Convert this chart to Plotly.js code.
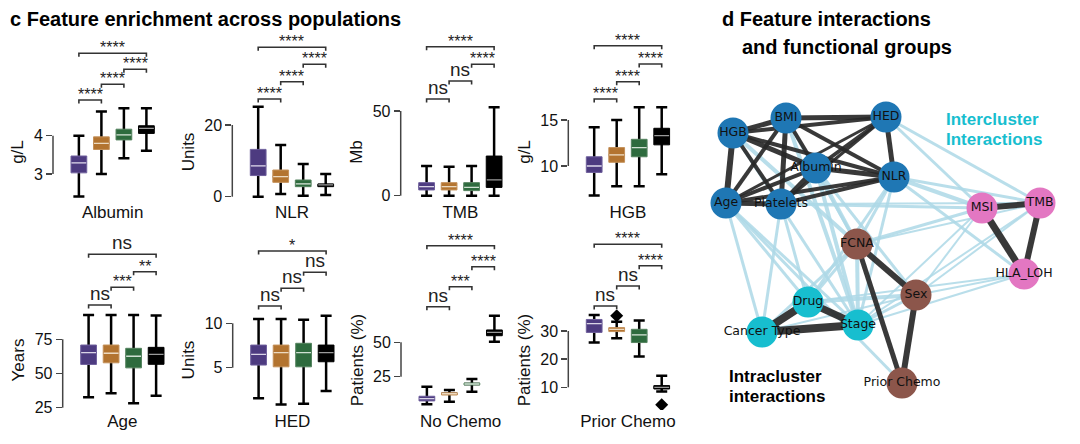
<!DOCTYPE html>
<html>
<head>
<meta charset="utf-8">
<script src="https://cdn.plot.ly/plotly-3.0.1.min.js"></script>
<style>html,body{margin:0;padding:0;background:#fff;}#chart{width:1080px;height:444px;}</style>
</head>
<body>
<div id="chart"></div>
<script>
// ---------- DATA ----------
const groupColors = ['#4d3b80', '#b37430', '#2e6b3e', '#000000'];
const borderColors = ['#6e5f9c', '#c4915a', '#55835f', '#000000'];
const medianColors = ['#d9d4e6', '#ecd9c0', '#cfe0d2', '#9a9a9a'];
const panelNames = ['Albumin', 'NLR', 'TMB', 'HGB', 'Age', 'HED', 'No Chemo', 'Prior Chemo'];
const yTitles = ['g/L', 'Units', 'Mb', 'g/L', 'Years', 'Units', 'Patients (%)', 'Patients (%)'];
const tickValues = [[3, 4], [0, 20], [0, 50], [10, 15], [25, 50, 75], [5, 10], [25, 50], [10, 20, 30]];

const lowerFences = [
  [2.41, 3.0, 3.41, 3.61], [0, 0.75, 0.3, 0.47], [0, 0, 0, 0], [6.8, 7.8, 7.8, 9.1],
  [32.7, 35.6, 28.3, 33.7], [1.55, 0.87, 0.94, 2.37], [4.9, 6.8, 14.1, 50.4], [25.9, 27.4, 20.9, 8.5]
];
const q1s = [
  [3.03, 3.64, 3.89, 4.06], [5.9, 4.0, 2.8, 2.8], [3.4, 3.4, 3.0, 4.9], [9.3, 10.4, 11.0, 12.3],
  [56.6, 57.8, 54.1, 56.7], [5.3, 5.1, 5.1, 5.67], [7.4, 11.7, 19.0, 54.8], [29.5, 29.8, 25.9, 9.4]
];
const medians = [
  [3.29, 3.80, 4.02, 4.19], [8.6, 5.6, 3.6, 3.3], [5.3, 5.3, 4.9, 9.3], [10.0, 11.2, 12.0, 13.3],
  [65.2, 64.8, 62.6, 63.9], [6.5, 6.7, 6.7, 6.7], [9.0, 12.6, 19.7, 57.3], [32.6, 30.6, 28.6, 10.0]
];
const q3s = [
  [3.47, 3.97, 4.17, 4.26], [13.2, 7.45, 4.66, 3.5], [7.7, 7.7, 7.7, 23.4], [11.0, 12.0, 12.9, 14.1],
  [70.8, 70.8, 68.4, 69.1], [7.55, 7.55, 7.75, 7.55], [10.8, 13.3, 20.4, 59.0], [34.1, 31.2, 30.6, 10.6]
];
const upperFences = [
  [4.0, 4.63, 4.72, 4.72], [25.1, 14.4, 9.1, 6.3], [17.5, 17.1, 17.5, 52.2], [14.2, 15.0, 16.4, 16.4],
  [92.8, 92.8, 92.8, 92.3], [10.5, 10.5, 10.4, 10.86], [17.7, 15.3, 23.3, 69.4], [35.7, 33.3, 33.7, 14.1]
];
const outlierPanel = [7, 7];
const outlierGroup = [1, 3];
const outlierValue = [35.4, 3.8];

const sigPairs = [[0, 1], [1, 2], [2, 3], [0, 3]];
const sigLabels = [
  ['****', '****', '****', '****'], ['****', '****', '****', '****'], ['ns', 'ns', '****', '****'], ['****', '****', '****', '****'],
  ['ns', '***', '**', 'ns'], ['ns', 'ns', 'ns', '*'], ['ns', '***', '****', '****'], ['ns', 'ns', '****', '****']
];

// network
const nodeNames = ['HGB', 'BMI', 'HED', 'Albumin', 'NLR', 'Age', 'Platelets', 'MSI', 'TMB', 'HLA_LOH', 'FCNA', 'Sex', 'Prior Chemo', 'Drug', 'Stage', 'Cancer Type'];
const nodeGroup = [0, 0, 0, 0, 0, 0, 0, 1, 1, 1, 2, 2, 2, 3, 3, 3];
const nodeX = [33, 86, 186, 116, 194, 26, 81, 282, 340, 324, 157, 216, 202, 108, 158, 62];
const nodeY = [133, 118, 117, 168, 177, 203, 204, 208, 203, 274, 244, 295, 383, 302, 325, 332];
const clusterColors = ['#1f77b4', '#e377c2', '#8c564b', '#17becf'];
const intraEdges = [
  ['HGB', 'BMI', 5], ['HGB', 'HED', 4], ['HGB', 'Albumin', 5], ['HGB', 'NLR', 4], ['HGB', 'Age', 6], ['HGB', 'Platelets', 4],
  ['BMI', 'HED', 5], ['BMI', 'Albumin', 4], ['BMI', 'NLR', 4], ['BMI', 'Age', 4], ['BMI', 'Platelets', 5],
  ['HED', 'Albumin', 4], ['HED', 'NLR', 5], ['HED', 'Age', 3], ['HED', 'Platelets', 3],
  ['Albumin', 'NLR', 5], ['Albumin', 'Age', 4], ['Albumin', 'Platelets', 5],
  ['NLR', 'Age', 4], ['NLR', 'Platelets', 4], ['Age', 'Platelets', 5],
  ['MSI', 'TMB', 6], ['MSI', 'HLA_LOH', 7], ['TMB', 'HLA_LOH', 6],
  ['FCNA', 'Sex', 6], ['FCNA', 'Prior Chemo', 5], ['Sex', 'Prior Chemo', 6],
  ['Drug', 'Stage', 7], ['Drug', 'Cancer Type', 8], ['Stage', 'Cancer Type', 8]
];
const interEdges = [
  ['HED', 'TMB', 3], ['HED', 'MSI', 3], ['NLR', 'MSI', 4], ['NLR', 'TMB', 3], ['NLR', 'HLA_LOH', 3],
  ['Platelets', 'MSI', 3], ['Platelets', 'TMB', 2], ['Age', 'Cancer Type', 3], ['Age', 'Drug', 3], ['Age', 'Stage', 3],
  ['HGB', 'Stage', 3], ['HGB', 'FCNA', 4], ['BMI', 'FCNA', 3], ['BMI', 'Stage', 4], ['Albumin', 'FCNA', 4],
  ['Albumin', 'Stage', 4], ['Albumin', 'Sex', 3], ['NLR', 'FCNA', 3], ['NLR', 'Drug', 3], ['NLR', 'Stage', 3],
  ['FCNA', 'MSI', 3], ['FCNA', 'TMB', 2], ['Sex', 'MSI', 2], ['Sex', 'TMB', 2], ['Sex', 'HLA_LOH', 2],
  ['Drug', 'Sex', 4], ['Drug', 'HLA_LOH', 2], ['Stage', 'Sex', 3], ['Stage', 'MSI', 2], ['Stage', 'TMB', 2],
  ['Stage', 'HLA_LOH', 2], ['Platelets', 'Cancer Type', 3], ['Platelets', 'Drug', 3], ['Drug', 'FCNA', 3],
  ['Stage', 'FCNA', 4], ['Cancer Type', 'FCNA', 3], ['Age', 'Prior Chemo', 3], ['Cancer Type', 'Sex', 2]
];

// ---------- LAYOUT CONFIG ----------
const W = 1080, H = 444;
const FONT = 'Liberation Sans, Arial, Helvetica, sans-serif';
const panelLeftPx = [53, 232.3, 400.7, 568.3, 62.7, 232.7, 401, 568.3];
const panelWidthPx = 119.3;
const rowTopPx = [104, 310], rowBottomPx = [200, 410];
const yRanges = [[2.321, 4.828], [-0.92, 25.86], [-2.54, 54.13], [6.30, 16.74], [23.3, 96.4], [0.237, 11.50], [0.8, 73.5], [1.94, 37.46]];
const xRange = [-1.15, 4.15];
const bracketPx = [
  [100, 84.3, 69.3, 53.3], [99, 81.7, 64.3, 47.3], [99, 81, 64.3, 46.7], [99, 81.7, 64, 45.7],
  [305, 287.3, 271.7, 254.3], [306, 288.3, 272.3, 251], [306.7, 286.7, 266.7, 245.7], [306, 286, 265.7, 244.3]
];

const px2py = p => 1 - p / H;
const traces = [];
const layout = {
  width: W, height: H, margin: {l: 0, r: 0, t: 0, b: 0},
  paper_bgcolor: '#fff', plot_bgcolor: 'rgba(0,0,0,0)',
  showlegend: false, boxmode: 'overlay',
  font: {family: FONT, color: '#111'},
  shapes: [], annotations: []
};

for (let p = 0; p < 8; p++) {
  const n = p + 1;
  const sfx = n === 1 ? '' : String(n);
  const row = p < 4 ? 0 : 1;
  const xa = 'x' + sfx, ya = 'y' + sfx;
  layout['xaxis' + sfx] = {
    domain: [panelLeftPx[p] / W, (panelLeftPx[p] + panelWidthPx) / W],
    range: xRange, anchor: ya, showgrid: false, zeroline: false, showline: false,
    showticklabels: false, ticks: '', fixedrange: true,
    title: {text: panelNames[p], font: {size: 17, family: FONT, color: '#111'}, standoff: row === 0 ? 6 : 5}
  };
  layout['yaxis' + sfx] = {
    domain: [px2py(rowBottomPx[row]), px2py(rowTopPx[row])],
    range: yRanges[p], anchor: xa, showgrid: false, zeroline: false, showline: false,
    tickmode: 'array', tickvals: tickValues[p], ticks: 'outside', ticklen: 6, tickwidth: 1.5, tickcolor: '#444',
    tickfont: {size: 16, family: FONT, color: '#111'}, fixedrange: true,
    title: {text: yTitles[p], font: {size: 17, family: FONT, color: '#111'}, standoff: 5}
  };
  const tv = tickValues[p];
  layout.shapes.push({type: 'line', xref: xa + ' domain', yref: ya, x0: 0, x1: 0, y0: tv[0], y1: tv[tv.length - 1], line: {color: '#444', width: 1.5}});

  for (let g = 0; g < 4; g++) {
    const common = {type: 'box', xaxis: xa, yaxis: ya, x: [g], width: 0.7, boxpoints: false, hoverinfo: 'skip', showlegend: false};
    // whiskers + caps
    traces.push(Object.assign({}, common, {
      q1: [medians[p][g]], median: [medians[p][g]], q3: [medians[p][g]],
      lowerfence: [lowerFences[p][g]], upperfence: [upperFences[p][g]],
      whiskerwidth: 0.7, line: {color: '#000', width: 2.5}, fillcolor: 'rgba(0,0,0,0)'
    }));
    // filled box
    traces.push(Object.assign({}, common, {
      q1: [q1s[p][g]], median: [medians[p][g]], q3: [q3s[p][g]],
      lowerfence: [q1s[p][g]], upperfence: [q3s[p][g]],
      whiskerwidth: 0, line: {color: borderColors[g], width: 1}, fillcolor: groupColors[g]
    }));
    // median line
    traces.push(Object.assign({}, common, {
      q1: [medians[p][g]], median: [medians[p][g]], q3: [medians[p][g]],
      lowerfence: [medians[p][g]], upperfence: [medians[p][g]],
      width: 0.66, whiskerwidth: 0, line: {color: medianColors[g], width: 1.3}, fillcolor: 'rgba(0,0,0,0)'
    }));
  }
  for (let k = 0; k < 4; k++) {
    const [a, b] = sigPairs[k];
    const yb = px2py(bracketPx[p][k]);
    const yd = px2py(bracketPx[p][k] + 3.5);
    layout.shapes.push({
      type: 'path', xref: xa, yref: 'paper',
      path: `M ${a},${yd} L ${a},${yb} L ${b},${yb} L ${b},${yd}`,
      line: {color: '#333', width: 1.6}
    });
    const lab = sigLabels[p][k];
    const isNs = lab === 'ns';
    layout.annotations.push({
      xref: xa, yref: 'paper', x: (a + b) / 2, y: yb, xanchor: 'center', yanchor: 'bottom',
      text: lab, showarrow: false, yshift: isNs ? -1 : -5,
      font: {size: isNs ? 19 : 16, family: FONT, color: '#222'}
    });
  }
}
for (let i = 0; i < outlierPanel.length; i++) {
  const n = outlierPanel[i] + 1;
  traces.push({
    type: 'scatter', mode: 'markers', xaxis: 'x' + n, yaxis: 'y' + n,
    x: [outlierGroup[i]], y: [outlierValue[i]],
    marker: {symbol: 'diamond', size: 10, color: '#000'}, hoverinfo: 'skip', showlegend: false
  });
}

// ---------- NETWORK ----------
layout.xaxis9 = {domain: [700 / W, 1], range: [0, 380], visible: false, fixedrange: true, anchor: 'y9'};
layout.yaxis9 = {domain: [0, 1], range: [444, 0], visible: false, fixedrange: true, anchor: 'x9'};
const idx = name => nodeNames.indexOf(name);
function addEdges(list, color) {
  list.forEach(([s, t, w]) => {
    traces.push({
      type: 'scatter', mode: 'lines', xaxis: 'x9', yaxis: 'y9',
      x: [nodeX[idx(s)], nodeX[idx(t)]], y: [nodeY[idx(s)], nodeY[idx(t)]],
      line: {color: color, width: w}, hoverinfo: 'skip', showlegend: false
    });
  });
}
addEdges(interEdges, 'rgba(173,216,230,0.85)');
addEdges(intraEdges, 'rgba(40,40,40,0.92)');
traces.push({
  type: 'scatter', mode: 'markers+text', xaxis: 'x9', yaxis: 'y9',
  x: nodeX, y: nodeY, text: nodeNames, textposition: 'middle center',
  textfont: {family: 'DejaVu Sans, sans-serif', size: 12.5, color: '#111'},
  marker: {size: 31, color: nodeGroup.map(g => clusterColors[g]), line: {width: 0}},
  cliponaxis: false, hoverinfo: 'skip', showlegend: false
});

// ---------- TEXT ----------
function txt(text, xPx, yPx, size, color, bold) {
  layout.annotations.push({
    xref: 'paper', yref: 'paper', x: xPx / W, y: px2py(yPx), xanchor: 'left', yanchor: 'middle',
    text: bold ? '<b>' + text + '</b>' : text, showarrow: false,
    font: {size: size, family: FONT, color: color}
  });
}
txt('c Feature enrichment across populations', 8, 19, 20, '#000', true);
txt('d Feature interactions', 720, 19, 20, '#000', true);
txt('and functional groups', 740, 47, 20, '#000', true);
txt('Intercluster', 944, 119, 17, '#17becf', true);
txt('Interactions', 944, 139, 17, '#17becf', true);
txt('Intracluster', 727, 376, 17, '#000', true);
txt('interactions', 727, 396, 17, '#000', true);

Plotly.newPlot('chart', traces, layout, {staticPlot: true, displayModeBar: false});
</script>
</body>
</html>
